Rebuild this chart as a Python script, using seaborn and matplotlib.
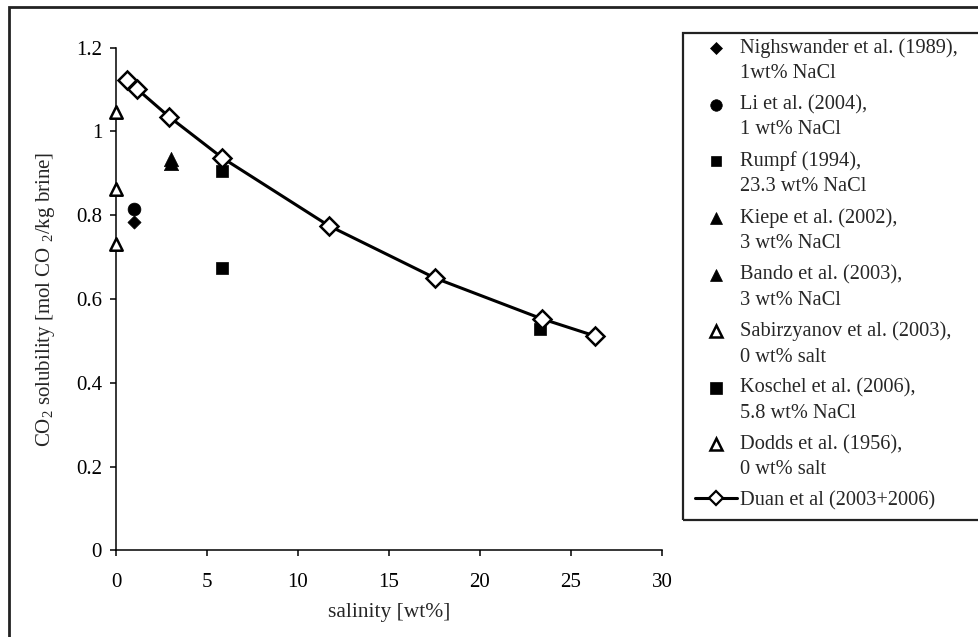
import seaborn as sns
import matplotlib.pyplot as plt
from matplotlib.lines import Line2D
from matplotlib.patches import Rectangle
from matplotlib.ticker import FuncFormatter
from matplotlib.legend_handler import HandlerLine2D

# Duan et al model curve (salinity wt%, mol CO2 / kg brine)
duan_x = [0.58, 1.17, 2.92, 5.84, 11.69, 17.53, 23.38, 26.3]
duan_y = [1.124, 1.101, 1.035, 0.937, 0.775, 0.650, 0.553, 0.512]

# experimental data
nighswander_x = [1.0]
nighswander_y = [0.783]
li_x = [1.0]
li_y = [0.814]
rumpf_x = [23.3]
rumpf_y = [0.528]
kiepe_x = [3.0]
kiepe_y = [0.935]
bando_x = [3.0]
bando_y = [0.925]
sabirzyanov_x = [0.0, 0.0]
sabirzyanov_y = [0.862, 0.732]
koschel_x = [5.8, 5.8]
koschel_y = [0.905, 0.674]
dodds_x = [0.0]
dodds_y = [1.046]

labels = [
    "Nighswander et al. (1989),\n1wt% NaCl",
    "Li et al. (2004),\n1 wt% NaCl",
    "Rumpf (1994),\n23.3 wt% NaCl",
    "Kiepe et al. (2002),\n3 wt% NaCl",
    "Bando et al. (2003),\n3 wt% NaCl",
    "Sabirzyanov et al. (2003),\n0 wt% salt",
    "Koschel et al. (2006),\n5.8 wt% NaCl",
    "Dodds et al. (1956),\n0 wt% salt",
    "Duan et al (2003+2006)",
]


class FirstLineHandler(HandlerLine2D):
    # put the marker next to the first text line instead of the middle
    def __init__(self, lift, **kw):
        super().__init__(**kw)
        self.lift = lift

    def create_artists(self, legend, orig_handle, xdescent, ydescent, width,
                       height, fontsize, trans):
        return super().create_artists(legend, orig_handle, xdescent,
                                      ydescent - 2 * self.lift, width, height,
                                      fontsize, trans)


sns.set_style("white")
plt.rcParams['font.family'] = ['Liberation Serif', 'DejaVu Serif']
plt.rcParams['mathtext.fontset'] = 'custom'
plt.rcParams['mathtext.rm'] = 'Liberation Serif'
plt.rcParams['mathtext.it'] = 'Liberation Serif:italic'

fig = plt.figure(figsize=(9.79, 6.37), dpi=100)
ax = fig.add_axes([116 / 979, 1 - 550.3 / 637, (662 - 116) / 979, (550.3 - 47.7) / 637])

# (x, y, marker, size, face, edge)
series = [
    (nighswander_x, nighswander_y, "D", 45, "black", "black"),
    (li_x, li_y, "o", 85, "black", "black"),
    (rumpf_x, rumpf_y, "s", 70, "black", "black"),
    (kiepe_x, kiepe_y, "^", 105, "black", "black"),
    (bando_x, bando_y, "^", 105, "black", "black"),
    (sabirzyanov_x, sabirzyanov_y, "^", 80, "white", "black"),
    (koschel_x, koschel_y, "s", 80, "black", "black"),
    (dodds_x, dodds_y, "^", 80, "white", "black"),
]
for x, y, m, s, fc, ec in series:
    sns.scatterplot(x=x, y=y, marker=m, s=s, color=fc, edgecolor=ec,
                    linewidth=1.8 if fc == "white" else 0.5, ax=ax, zorder=3,
                    clip_on=False)

sns.lineplot(x=duan_x, y=duan_y, color="black", linewidth=2.2, marker="D",
             markersize=9.5, markerfacecolor="white", markeredgecolor="black",
             markeredgewidth=1.8, ax=ax, zorder=4, clip_on=False)

ax.set_xlim(0, 30)
ax.set_ylim(0, 1.2)
ax.set_xticks(range(0, 31, 5))
ax.set_yticks([0, 0.2, 0.4, 0.6, 0.8, 1.0, 1.2])
ax.yaxis.set_major_formatter(FuncFormatter(lambda v, p: "%g" % v))
sns.despine(ax=ax)
for sp in ["left", "bottom"]:
    ax.spines[sp].set_linewidth(1.1)
    ax.spines[sp].set_color("black")
ax.tick_params(axis="both", direction="out", length=4, width=1.1, colors="black",
               labelsize=15, left=True, bottom=True)
ax.tick_params(axis="x", pad=12)
ax.tick_params(axis="y", pad=6)
ax.set_xlabel("salinity [wt%]", fontsize=15.5, labelpad=8)
ax.set_ylabel(r"CO$_\mathrm{2}$ solubility [mol CO $_\mathrm{2}$/kg brine]", fontsize=15)
ax.yaxis.set_label_coords(-0.108, 0.5)

# legend
handles = []
for x, y, m, s, fc, ec in series:
    handles.append(Line2D([], [], linestyle="none", marker=m, markersize=s ** 0.5 * 0.9,
                          markerfacecolor=fc, markeredgecolor=ec,
                          markeredgewidth=1.8 if fc == "white" else 0.5))
handles.append(Line2D([], [], color="black", linewidth=2.2, marker="D", markersize=7,
                      markerfacecolor="white", markeredgecolor="black", markeredgewidth=1.6))
hmap = {h: FirstLineHandler(9) for h in handles[:-1]}
leg = fig.legend(handles, labels, loc="upper left", bbox_to_anchor=(695 / 979, 1 - 38 / 637),
                 frameon=False, fontsize=14.7, handlelength=2.06, handletextpad=0.15,
                 labelspacing=0.58, borderaxespad=0, borderpad=0, handler_map=hmap)
for t in leg.get_texts():
    t.set_linespacing(1.45)

fig.patches.append(Rectangle((683 / 979, 1 - 520 / 637), 0.5, (520 - 33) / 637,
                             transform=fig.transFigure, fill=False, linewidth=1.6,
                             edgecolor="#222222"))
fig.patches.append(Rectangle((9 / 979, -0.1), 1.2, 1.1 - 7 / 637,
                             transform=fig.transFigure, fill=False, linewidth=2,
                             edgecolor="#222222"))

fig.savefig("out.png", dpi=100)
